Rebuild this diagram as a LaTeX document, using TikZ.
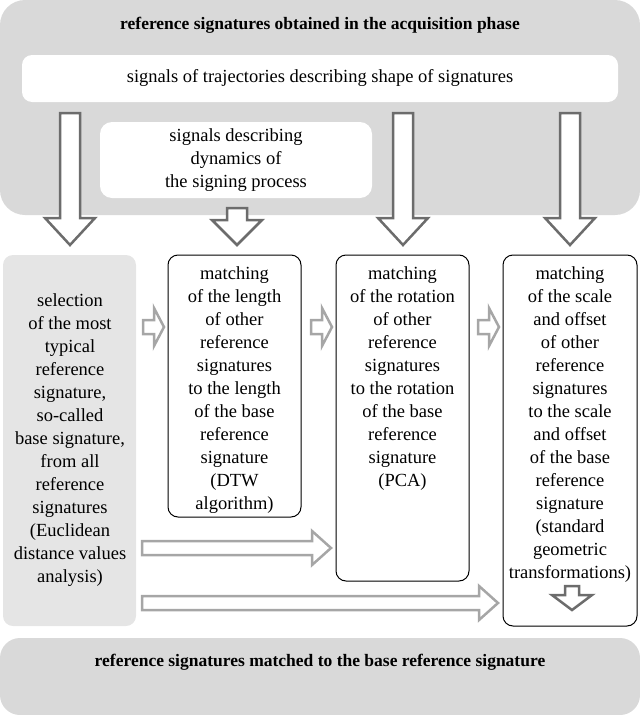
\documentclass[tikz,border=0pt]{standalone}
\usepackage{fontspec}
\setmainfont{Liberation Serif}
\begin{document}
\begin{tikzpicture}[x=1pt,y=-1pt,
  txt/.style={align=center,font=\fontsize{18.5}{23}\selectfont},
  box/.style={draw=black,line width=1pt,rounded corners=10pt,fill=white},
  downar/.style={draw=gray!85!black,line width=2.5pt,fill=white},
  rightar/.style={draw=gray!70,line width=2.5pt,fill=white}]
\useasboundingbox (0,0) rectangle (640,715);
\fill[gray!30,rounded corners=25pt] (0,0) rectangle (640,215);
\node[txt,font=\fontsize{17.5}{23}\selectfont\bfseries] (title) at (320,25) {reference signatures obtained in the acquisition phase};
\fill[white,rounded corners=10pt] (22,55) rectangle (618,102);
\node[txt] (traj) at (320,78) {signals of trajectories describing shape of signatures};
\fill[white,rounded corners=12pt] (100,122) rectangle (372,198);
\node[txt] (dyn) at (236,160) {signals describing\\dynamics of\\the signing process};
% down arrows
\foreach \x/\t/\h in {70/113/218,403/113/218,570/113/218,237/208/220}{
 \draw[downar] ({\x-10},\t) -- ({\x+10},\t) -- ({\x+10},\h) -- ({\x+25},\h) -- (\x,245) -- ({\x-25},\h) -- ({\x-10},\h) -- cycle;}
\fill[gray!20,rounded corners=10pt] (3,255) rectangle (136,626);
\node[txt] (sel) at (70,440) {selection\\of the most\\typical\\reference\\signature,\\so-called\\base signature,\\from all\\reference\\signatures\\(Euclidean\\distance values\\analysis)};
\draw[box] (168,255) rectangle (301,517);
\node[txt,anchor=north] (m1) at (234.5,263) {matching\\of the length\\of other\\reference\\signatures\\to the length\\of the base\\reference\\signature\\(DTW\\algorithm)};
\draw[box] (336,255) rectangle (469,581);
\node[txt,anchor=north] (m2) at (402.5,263) {matching\\of the rotation\\of other\\reference\\signatures\\to the rotation\\of the base\\reference\\signature\\(PCA)};
\draw[box] (503,255) rectangle (637,626);
\node[txt,anchor=north] (m3) at (570,263) {matching\\of the scale\\and offset\\of other\\reference\\signatures\\to the scale\\and offset\\of the base\\reference\\signature\\(standard\\geometric\\transformations)};
% small right arrows
\foreach \x in {143,311,478}{
 \draw[rightar] (\x,320) -- ({\x+11},320) -- ({\x+11},308) -- ({\x+21},327) -- ({\x+11},346) -- ({\x+11},334) -- (\x,334) -- cycle;}
% long right arrows
\draw[rightar] (142,541) -- (312,541) -- (312,531) -- (331,548) -- (312,565) -- (312,555) -- (142,555) -- cycle;
\draw[rightar] (142,596) -- (479,596) -- (479,586) -- (498,603) -- (479,620) -- (479,610) -- (142,610) -- cycle;
% bottom arrow
\draw[downar] (565,586) -- (579,586) -- (579,595) -- (592,595) -- (572,610) -- (552,595) -- (565,595) -- cycle;
\fill[gray!30,rounded corners=20pt] (0,638) rectangle (640,715);
\node[txt,font=\fontsize{17.5}{23}\selectfont\bfseries] (res) at (320,662) {reference signatures matched to the base reference signature};
\end{tikzpicture}
\end{document}
